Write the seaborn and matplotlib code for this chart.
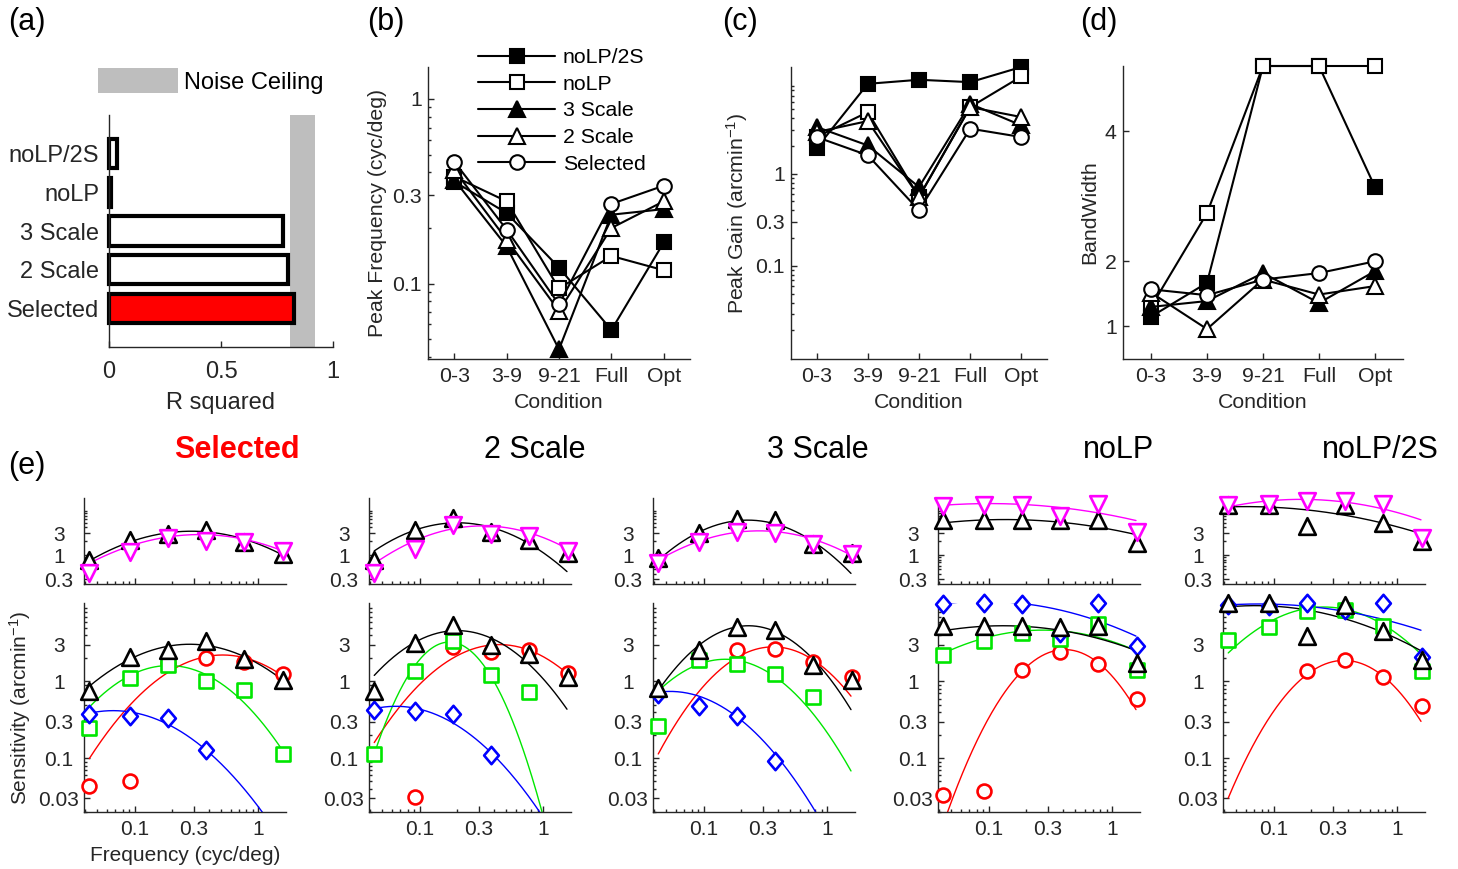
import numpy as np
import matplotlib
matplotlib.use("Agg")
import matplotlib.pyplot as plt
import matplotlib.ticker as mticker
from matplotlib.patches import Patch
from matplotlib.path import Path
import seaborn as sns

nan = np.nan

# ------------------------------------------------------------------ data
# (a) goodness of fit per model
MODELS = ["noLP/2S", "noLP", "3 Scale", "2 Scale", "Selected"]
R_SQUARED = [0.036, 0.009, 0.777, 0.800, 0.826]
NOISE_CEILING = [0.81, 0.92]

# (b)-(d) fitted parameters per condition (rows follow MODELS)
CONDITIONS = ["0-3", "3-9", "9-21", "Full", "Opt"]
PEAK_FREQ = [
    [0.357, 0.241, 0.122, 0.056, 0.167],
    [0.380, 0.279, 0.094, 0.141, 0.118],
    [0.365, 0.159, 0.044, 0.236, 0.253],
    [0.413, 0.173, 0.071, 0.200, 0.279],
    [0.458, 0.196, 0.077, 0.270, 0.339],
]
PEAK_GAIN = [
    [1.89, 9.4, 10.4, 9.8, 14.3],
    [2.49, 4.64, 0.558, 5.26, 11.3],
    [3.20, 2.02, 0.716, 5.70, 3.33],
    [2.82, 3.71, 0.560, 5.26, 4.10],
    [2.49, 1.58, 0.400, 3.07, 2.49],
]
BANDWIDTH = [
    [1.15, 1.67, 5.00, 5.00, 3.14],
    [1.30, 2.74, 5.00, 5.00, 5.00],
    [1.30, 1.39, 1.82, 1.36, 1.85],
    [1.52, 0.96, 1.72, 1.49, 1.62],
    [1.57, 1.48, 1.72, 1.82, 2.00],
]

# (e) sensitivity per spatial frequency, one row per model panel
E_TITLES = ["Selected", "2 Scale", "3 Scale", "noLP", "noLP/2S"]
FREQ = [0.043, 0.091, 0.186, 0.38, 0.77, 1.57]
TOP_BLACK = [
    [0.78, 2.17, 2.92, 3.45, 1.94, 1.05],
    [0.78, 3.56, 6.46, 3.17, 2.17, 1.12],
    [0.89, 3.02, 6.15, 5.66, 1.78, 1.12],
    [5.85, 5.85, 5.85, 5.66, 5.85, 1.84],
    [11.9, 11.9, 4.20, 11.9, 4.96, 2.03],
]
TOP_MAGENTA = [
    [0.417, 1.18, 2.40, 2.03, 1.94, 1.24],
    [0.417, 1.39, 4.57, 2.92, 2.56, 1.24],
    [0.684, 1.94, 3.17, 3.02, 1.72, 1.05],
    [11.3, 11.9, 11.9, 6.90, 12.9, 3.17],
    [11.9, 12.9, 14.7, 14.7, 12.5, 2.40],
]
BOT_BLACK = [
    [0.75, 2.11, 2.60, 3.38, 1.94, 1.03],
    [0.75, 3.18, 5.42, 3.02, 2.26, 1.14],
    [0.826, 2.55, 5.15, 4.66, 1.62, 1.05],
    [5.26, 5.26, 5.26, 5.15, 5.26, 1.74],
    [10.6, 10.6, 3.89, 9.90, 4.57, 1.92],
]
BOT_RED = [
    [0.0434, 0.0504, 1.74, 2.04, 1.79, 1.26],
    [nan, 0.031, 2.82, 2.42, 2.55, 1.29],
    [nan, nan, 2.55, 2.68, 1.79, 1.14],
    [0.0337, 0.038, 1.42, 2.42, 1.67, 0.593],
    [nan, nan, 1.37, 1.88, 1.16, 0.485],
]
BOT_GREEN = [
    [0.25, 1.10, 1.65, 1.01, 0.78, 0.115],
    [0.113, 1.37, 3.35, 1.20, 0.72, nan],
    [0.265, 1.88, 1.71, 1.26, 0.636, nan],
    [2.19, 3.38, 4.30, 3.62, 5.58, 1.42],
    [3.45, 5.15, 8.36, 8.52, 5.31, 1.37],
]
BOT_BLUE = [
    [0.377, 0.358, 0.334, 0.127, nan, nan],
    [0.425, 0.417, 0.377, 0.110, nan, nan],
    [0.689, 0.485, 0.358, 0.092, nan, nan],
    [10.2, 10.4, 10.2, 4.30, 10.4, 2.88],
    [9.9, 9.6, 10.6, 8.52, 10.6, 2.08],
]
# log-parabola fits: (peak frequency, peak gain, curvature)
TOP_BLACK_FIT = [(0.287, 3.28, 0.94), (0.202, 4.98, 1.34), (0.2275, 5.68, 1.65),
                 (0.136, 5.85, 0.29), (0.0596, 11.1, 0.29)]
TOP_MAGENTA_FIT = [(0.335, 2.78, 0.78), (0.324, 4.27, 1.055), (0.281, 3.34, 0.95),
                   (0.1014, 12.9, 0.26), (0.1667, 15.9, 0.47)]
BOT_BLACK_FIT = [(0.279, 3.05, 0.83), (0.201, 4.59, 1.30), (0.230, 5.31, 1.59),
                 (0.131, 5.31, 0.28), (0.0718, 9.7, 0.33)]
BOT_RED_FIT = [(0.515, 2.21, 1.16), (0.440, 3.02, 1.25), (0.364, 2.82, 1.62),
               (0.412, 2.60, 2.36), (0.370, 1.88, 2.05)]
BOT_GREEN_FIT = [(0.189, 1.61, 1.31), (0.174, 3.26, 3.95), (0.1496, 1.945, 1.41),
                 (0.273, 4.66, 0.47), (0.255, 9.31, 1.00)]
BOT_BLUE_FIT = [(0.0671, 0.417, 0.91), (0.0643, 0.475, 1.02), (0.0536, 0.742, 1.135),
                (0.0914, 11.06, 0.30), (0.0764, 10.2, 0.20)]
CURVE_RANGE = (0.043, 1.55)

# ------------------------------------------------------------------ style
sns.set_theme(style="ticks")
plt.rcParams["font.family"] = ["Liberation Sans", "DejaVu Sans"]
plt.rcParams["mathtext.default"] = "regular"
INK = "#262626"
GREY = "#bebebe"
RED, GREEN, BLUE, MAG = "#ff0000", "#00e600", "#0000ff", "#ff00ff"

MODEL_MARKER = {"noLP/2S": "s", "noLP": "s", "3 Scale": "^", "2 Scale": "^", "Selected": "o"}
MODEL_FACE = {"noLP/2S": "black", "noLP": "white", "3 Scale": "black",
              "2 Scale": "white", "Selected": "white"}
MARKER_SIZE = {"s": 9.5, "^": 11.0, "o": 10.5}
BAR_FACE = {"noLP/2S": "white", "noLP": "white", "3 Scale": "white",
            "2 Scale": "white", "Selected": "#ff0000"}
DIAMOND = Path([(0, 1), (0.85, 0), (0, -1), (-0.85, 0), (0, 1)],
               [Path.MOVETO, Path.LINETO, Path.LINETO, Path.LINETO, Path.CLOSEPOLY])

W, H = 1458, 869
fig = plt.figure(figsize=(W / 100, H / 100), dpi=100)


def add_ax(l, t, r, b):
    return fig.add_axes([l / W, 1 - b / H, (r - l) / W, (b - t) / H])


def style(ax, fs, xpad=5.0, ypad=5.0):
    sns.despine(ax=ax)
    for s in ("left", "bottom"):
        ax.spines[s].set_color(INK)
        ax.spines[s].set_linewidth(1.0)
    ax.tick_params(which="both", direction="in", color=INK, labelcolor=INK,
                   width=1.0, labelsize=fs)
    ax.tick_params(which="major", length=4)
    ax.tick_params(which="minor", length=2)
    ax.tick_params(axis="x", which="both", pad=xpad)
    ax.tick_params(axis="y", which="both", pad=ypad)
    ax.set_facecolor("none")


# ------------------------------------------------------------------ (a)
ax_a = add_ax(109, 115, 333, 347)
ax_a.axvspan(NOISE_CEILING[0], NOISE_CEILING[1], color=GREY, lw=0, zorder=0)
sns.barplot(x=R_SQUARED, y=MODELS, hue=MODELS, palette=BAR_FACE, order=MODELS,
            hue_order=MODELS, orient="h", width=0.76, edgecolor="black",
            linewidth=3, saturation=1, legend=False, ax=ax_a)
for p in ax_a.patches:
    p.set_clip_on(False)
ax_a.set_xlim(0, 1)
ax_a.set_ylim(5.0, -1.0)
ax_a.set_xticks([0, 0.5, 1], ["0", "0.5", "1"])
ax_a.set_ylabel("")
ax_a.set_xlabel("R squared", fontsize=17, color=INK, labelpad=7)
style(ax_a, 17, xpad=9.8, ypad=7)
ax_a.tick_params(axis="y", length=0)
fpx = 17 * 100 / 72
ax_a.legend(handles=[Patch(facecolor=GREY, edgecolor="none", label="Noise Ceiling")],
            loc="center left", bbox_to_anchor=(98 / W, 1 - 81 / H),
            bbox_transform=fig.transFigure, frameon=False, fontsize=17,
            borderpad=0, borderaxespad=0, handlelength=80 / fpx,
            handleheight=1.2, handletextpad=6 / fpx, labelcolor="black")

# ------------------------------------------------------------------ (b)-(d)
ax_b = add_ax(428, 67, 690, 359)
ax_c = add_ax(791, 67, 1047, 359)
ax_d = add_ax(1123, 66, 1403, 359)
X_POS = np.arange(1, len(CONDITIONS) + 1)

for ax, table in ((ax_b, PEAK_FREQ), (ax_c, PEAK_GAIN), (ax_d, BANDWIDTH)):
    if ax is not ax_d:
        ax.set_yscale("log")
    for i, m in enumerate(MODELS):
        mk = MODEL_MARKER[m]
        sns.lineplot(x=X_POS, y=table[i], ax=ax, color="black", linewidth=1.5,
                     marker=mk, markersize=MARKER_SIZE[mk],
                     markerfacecolor=MODEL_FACE[m], markeredgecolor="black",
                     markeredgewidth=1.5, label=m, clip_on=False, legend=False)
    ax.set_xlim(0.5, 5.5)
    ax.set_xticks(X_POS, CONDITIONS)
    ax.set_xlabel("Condition", fontsize=15.3, color=INK, labelpad=4.5)
    style(ax, 15.3, xpad=6, ypad=4.5)

ax_b.set_ylim(0.039, 1.49)
ax_b.set_yticks([0.1, 0.3, 1], ["0.1", "0.3", "1"])
ax_b.yaxis.set_minor_formatter(mticker.NullFormatter())
ax_b.set_ylabel("Peak Frequency (cyc/deg)", fontsize=15.3, color=INK)

ax_c.set_ylim(0.0098, 14.3)
ax_c.set_yticks([0.1, 0.3, 1], ["0.1", "0.3", "1"])
ax_c.yaxis.set_minor_formatter(mticker.NullFormatter())
ax_c.set_ylabel("Peak Gain (arcmin$^{-1}$)", fontsize=15.3, color=INK)

ax_d.set_ylim(0.5, 5.0)
ax_d.set_yticks([1, 2, 4], ["1", "2", "4"])
ax_d.set_ylabel("BandWidth", fontsize=15.3, color=INK)

fpx_b = 15.3 * 100 / 72
ax_b.legend(loc="upper left", bbox_to_anchor=(478 / W, 1 - 48 / H),
            bbox_transform=fig.transFigure, frameon=False, fontsize=15.3,
            borderpad=0, borderaxespad=0, handlelength=77 / fpx_b,
            handletextpad=8 / fpx_b, labelspacing=0.36, labelcolor="black")

# ------------------------------------------------------------------ (e)
E_LEFTS = [84, 369, 653, 938, 1223]
E_W = 202
F_CURVE = np.geomspace(CURVE_RANGE[0], CURVE_RANGE[1], 160)


def curve(ax, fit, color, z=2):
    fpk, gpk, k = fit
    y = gpk * 10 ** (-k * np.log10(F_CURVE / fpk) ** 2)
    sns.lineplot(x=F_CURVE, y=y, ax=ax, color=color, linewidth=1.0, zorder=z)


def marks(ax, y, marker, color, ms, z):
    sns.scatterplot(x=FREQ, y=y, ax=ax, marker=marker, s=ms ** 2, color="white",
                    edgecolor=color, linewidth=1.9, zorder=z, clip_on=False,
                    legend=False)


for j, title in enumerate(E_TITLES):
    left = E_LEFTS[j]
    axt = add_ax(left, 498, left + E_W, 584)
    axb = add_ax(left, 603, left + E_W, 812)
    for ax in (axt, axb):
        ax.set_xscale("log")
        ax.set_yscale("log")

    curve(axt, TOP_BLACK_FIT[j], "black")
    curve(axt, TOP_MAGENTA_FIT[j], MAG)
    marks(axt, TOP_BLACK[j], "^", "black", 12, 3)
    marks(axt, TOP_MAGENTA[j], "v", MAG, 12, 4)

    curve(axb, BOT_RED_FIT[j], RED)
    curve(axb, BOT_GREEN_FIT[j], GREEN)
    curve(axb, BOT_BLUE_FIT[j], BLUE)
    curve(axb, BOT_BLACK_FIT[j], "black")
    marks(axb, BOT_RED[j], "o", RED, 10, 3)
    marks(axb, BOT_GREEN[j], "s", GREEN, 9.5, 4)
    marks(axb, BOT_BLUE[j], DIAMOND, BLUE, 12.5, 5)
    marks(axb, BOT_BLACK[j], "^", "black", 12, 6)

    for ax in (axt, axb):
        ax.set_xlim(0.039, 1.67)
        ax.set_xticks([0.1, 0.3, 1], ["0.1", "0.3", "1"])
        ax.xaxis.set_minor_formatter(mticker.NullFormatter())
        ax.yaxis.set_minor_formatter(mticker.NullFormatter())
        ax.set_xlabel("")
        ax.set_ylabel("")
        style(ax, 15, xpad=5.6, ypad=18)
    axt.set_ylim(0.24, 17)
    axt.set_yticks([0.3, 1, 3], ["0.3", "1", "3"], ha="center")
    axt.tick_params(axis="x", labelbottom=False)
    axb.set_ylim(0.02, 10.5)
    axb.set_yticks([0.03, 0.1, 0.3, 1, 3], ["0.03", "0.1", "0.3", "1", "3"], ha="center")
    axt.yaxis.set_minor_formatter(mticker.NullFormatter())
    axb.yaxis.set_minor_formatter(mticker.NullFormatter())

    if j == 0:
        axb.set_xlabel("Frequency (cyc/deg)", fontsize=15, color=INK, labelpad=5.5)
        axb.set_ylabel("Sensitivity (arcmin$^{-1}$)", fontsize=15, color=INK)

    sel = title == "Selected"
    fig.text((left + E_W + 14) / W, 1 - 450 / H, title, ha="right", va="center",
             fontsize=22, color="#ff0000" if sel else "black",
             fontweight="bold" if sel else "normal")

# ------------------------------------------------------------------ panel letters
for lab, x, y in (("(a)", 8, 22), ("(b)", 367, 22), ("(c)", 722, 22),
                  ("(d)", 1080, 22), ("(e)", 8, 466)):
    fig.text(x / W, 1 - y / H, lab, fontsize=22, ha="left", va="center", color="black")

fig.savefig("out.png", dpi=100)
